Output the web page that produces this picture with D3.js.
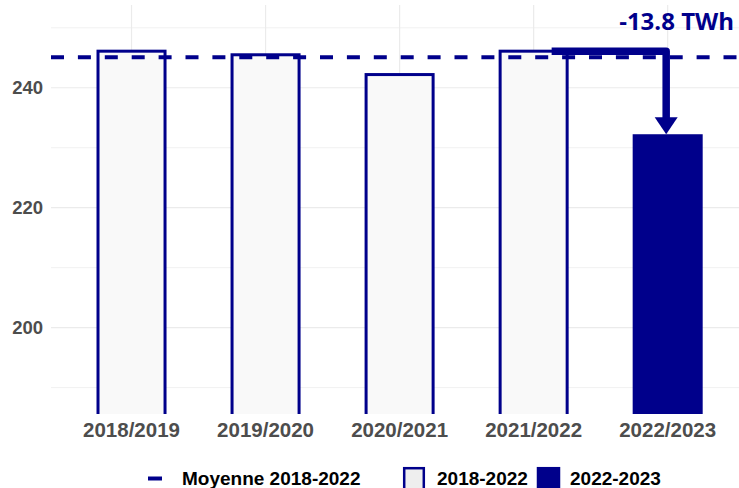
<!DOCTYPE html>
<html>
<head>
<meta charset="utf-8">
<script src="https://cdn.jsdelivr.net/npm/d3@7"></script>
<style>
  body { margin: 0; background: #fff; }
  svg { display: block; font-family: "Liberation Sans", Arial, sans-serif; }
</style>
</head>
<body>
<svg id="chart" width="739" height="488"></svg>
<script>
// data
var seasons = ['2018/2019', '2019/2020', '2020/2021', '2021/2022', '2022/2023'];
var consumption = [246.1, 245.5, 242.2, 246.1, 232.0];
var period = ['2018-2022', '2018-2022', '2018-2022', '2018-2022', '2022-2023'];
var mean1822 = 245.1;
var yTicksMajor = [200, 220, 240];
var yTicksMinor = [190, 210, 230, 250];
var deltaLabel = '-13.8 TWh';

var navy = '#00008b';
var svg = d3.select('#chart');

/* Panel */
var pLeft = 51, pRight = 739, pTop = 5, pBottom = 414;

var x = d3.scaleBand()
  .domain(seasons)
  .range([64.5, 734.7])
  .paddingInner(0.5)
  .paddingOuter(0.25);

var y = d3.scaleLinear()
  .domain([185.6, 253.8])
  .range([pBottom, pTop]);

svg.append('clipPath').attr('id', 'panel')
  .append('rect')
  .attr('x', pLeft).attr('y', pTop)
  .attr('width', pRight - pLeft).attr('height', pBottom - pTop);

/* Grid */
var grid = svg.append('g').attr('clip-path', 'url(#panel)');
grid.selectAll('line.minor')
  .data(yTicksMinor)
  .join('line')
  .attr('class', 'minor')
  .attr('x1', pLeft).attr('x2', pRight)
  .attr('y1', d => y(d)).attr('y2', d => y(d))
  .attr('stroke', '#f1f1f1').attr('stroke-width', 1);
grid.selectAll('line.major')
  .data(yTicksMajor)
  .join('line')
  .attr('class', 'major')
  .attr('x1', pLeft).attr('x2', pRight)
  .attr('y1', d => y(d)).attr('y2', d => y(d))
  .attr('stroke', '#ebebeb').attr('stroke-width', 1.2);
grid.selectAll('line.vert')
  .data(seasons)
  .join('line')
  .attr('class', 'vert')
  .attr('x1', d => x(d) + x.bandwidth() / 2)
  .attr('x2', d => x(d) + x.bandwidth() / 2)
  .attr('y1', pTop).attr('y2', pBottom)
  .attr('stroke', '#ebebeb').attr('stroke-width', 1.2);

/* Bars */
var bars = svg.append('g').attr('clip-path', 'url(#panel)');
bars.selectAll('rect')
  .data(seasons)
  .join('rect')
  .attr('x', d => x(d))
  .attr('width', x.bandwidth())
  .attr('y', (d, i) => y(consumption[i]))
  .attr('height', (d, i) => pBottom + 10 - y(consumption[i]))
  .attr('fill', (d, i) => period[i] === '2022-2023' ? navy : '#f9f9f9')
  .attr('stroke', navy)
  .attr('stroke-width', 3);

/* Mean line */
svg.append('line')
  .attr('x1', pLeft).attr('x2', pRight)
  .attr('y1', y(mean1822)).attr('y2', y(mean1822))
  .attr('stroke', navy)
  .attr('stroke-width', 4)
  .attr('stroke-dasharray', '13,13.9');

/* Y axis labels */
svg.append('g')
  .selectAll('text')
  .data(yTicksMajor)
  .join('text')
  .attr('x', 43)
  .attr('y', d => y(d))
  .attr('dy', '0.36em')
  .attr('text-anchor', 'end')
  .attr('font-size', 18.5)
  .attr('font-weight', 'bold')
  .attr('fill', '#4d4d4d')
  .text(d => d);

/* X axis labels */
svg.append('g')
  .selectAll('text')
  .data(seasons)
  .join('text')
  .attr('x', d => x(d) + x.bandwidth() / 2)
  .attr('y', 437)
  .attr('text-anchor', 'middle')
  .attr('font-size', 20.5)
  .attr('font-weight', 'bold')
  .attr('fill', '#4d4d4d')
  .text(d => d);

/* Arrow annotation */
var xFrom = x(seasons[3]) + x.bandwidth() / 2 + 18;
var xTo = x(seasons[4]) + x.bandwidth() / 2 - 1.5;
var yFrom = y(consumption[3]);
var yTip = y(consumption[4]) - 1.5;
var headLen = 17, headHalf = 11.5;

svg.append('path')
  .attr('d', 'M' + xFrom + ',' + yFrom + 'H' + xTo + 'V' + (yTip - headLen + 1))
  .attr('fill', 'none')
  .attr('stroke', navy)
  .attr('stroke-width', 7.5)
  .attr('stroke-linejoin', 'round');
svg.append('path')
  .attr('d', 'M' + (xTo - headHalf) + ',' + (yTip - headLen) +
             'L' + (xTo + headHalf) + ',' + (yTip - headLen) +
             'L' + xTo + ',' + yTip + 'Z')
  .attr('fill', navy);

svg.append('text')
  .attr('x', 734)
  .attr('y', 30)
  .attr('text-anchor', 'end')
  .attr('font-family', '"Open Sans", sans-serif')
  .attr('font-size', 24)
  .attr('font-weight', 'bold')
  .attr('fill', navy)
  .text(deltaLabel);

/* Legend */
var legend = svg.append('g');
legend.append('line')
  .attr('x1', 148).attr('x2', 162)
  .attr('y1', 478.5).attr('y2', 478.5)
  .attr('stroke', navy).attr('stroke-width', 4);
legend.append('text')
  .attr('x', 182).attr('y', 485)
  .attr('font-size', 19).attr('font-weight', 'bold').attr('fill', '#000')
  .text('Moyenne 2018-2022');

legend.append('rect')
  .attr('x', 404.2).attr('y', 468.2)
  .attr('width', 19.6).attr('height', 24)
  .attr('fill', '#eeeeee').attr('stroke', navy).attr('stroke-width', 2.5);
legend.append('text')
  .attr('x', 437).attr('y', 485)
  .attr('font-size', 19).attr('font-weight', 'bold').attr('fill', '#000')
  .text('2018-2022');

legend.append('rect')
  .attr('x', 538).attr('y', 468.2)
  .attr('width', 21).attr('height', 24)
  .attr('fill', navy).attr('stroke', navy).attr('stroke-width', 2.5);
legend.append('text')
  .attr('x', 570).attr('y', 485)
  .attr('font-size', 19).attr('font-weight', 'bold').attr('fill', '#000')
  .text('2022-2023');
</script>
</body>
</html>
